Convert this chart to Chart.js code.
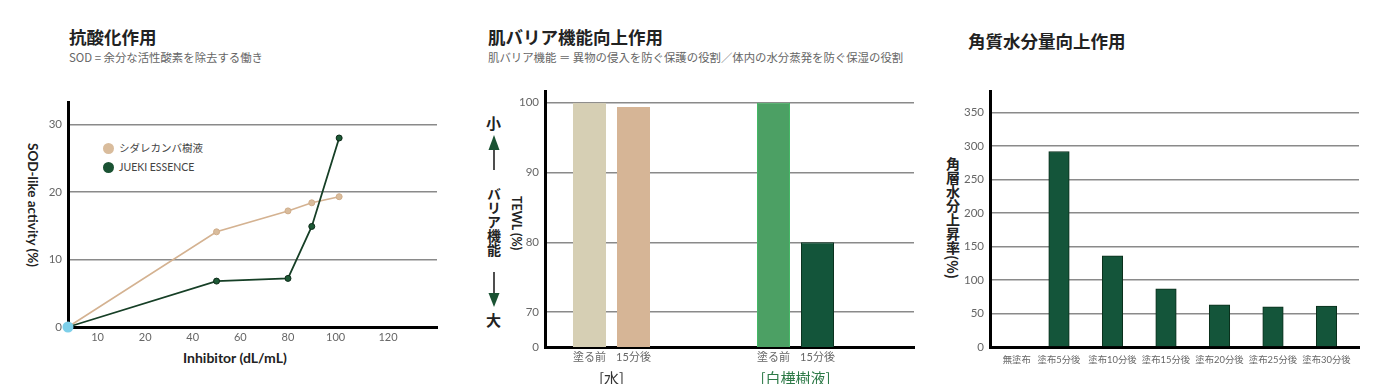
<!DOCTYPE html>
<html><head><meta charset="utf-8">
<script src="https://cdn.jsdelivr.net/npm/chart.js@4/dist/chart.umd.min.js"></script>
<style>
html,body{margin:0;padding:0;background:#fff;}
body{width:1400px;height:384px;position:relative;overflow:hidden;font-family:'Noto Sans CJK JP',sans-serif;}
.t{position:absolute;white-space:nowrap;}
.title{font-size:17.5px;font-weight:700;color:#222;line-height:20px;}
.sub{font-size:11.4px;color:#666;line-height:14px;}
.vt{position:absolute;writing-mode:vertical-rl;white-space:nowrap;}
.lat{font-family:Lato,'Noto Sans CJK JP',sans-serif;font-weight:700;color:#222;}
.lg{position:absolute;white-space:nowrap;font-family:Lato,'Noto Sans CJK JP',sans-serif;font-size:10.5px;color:#444;line-height:13px;}
.lg span{position:absolute;left:-16px;top:1px;width:11px;height:11px;border-radius:50%;}
canvas{position:absolute;}
</style></head>
<body>
<div class="t title" style="left:69px;top:27px">抗酸化作用</div>
<div class="t sub" style="left:69px;top:50px">SOD = 余分な活性酸素を除去する働き</div>
<div class="t title" style="left:488px;top:27px">肌バリア機能向上作用</div>
<div class="t sub" style="left:488px;top:50px">肌バリア機能 ＝ 異物の侵入を防ぐ保護の役割／体内の水分蒸発を防ぐ保湿の役割</div>
<div class="t title" style="left:968px;top:31px">角質水分量向上作用</div>

<div class="vt lat" style="left:25px;top:143px;font-size:13.5px;line-height:16px;">SOD-like activity (%)</div>
<div class="t lat" style="left:183px;top:350px;font-size:14px;line-height:16px;">Inhibitor (dL/mL)</div>

<div id="legend1"></div>

<div class="t" style="left:486px;top:114px;font-size:15px;font-weight:700;line-height:18px;color:#222;">小</div>
<div class="vt" style="left:486px;top:187px;font-size:14px;font-weight:700;line-height:16px;color:#222;">バリア機能</div>
<div class="t" style="left:486px;top:311px;font-size:15px;font-weight:700;line-height:18px;color:#222;">大</div>
<svg style="position:absolute;left:484px;top:130px" width="20" height="180" viewBox="484 130 20 180">
  <line x1="494" y1="148" x2="494" y2="170" stroke="#222" stroke-width="1.6"/>
  <polygon points="494,135 488.5,150 499.5,150" fill="#1a5233"/>
  <line x1="494" y1="272" x2="494" y2="295" stroke="#222" stroke-width="1.6"/>
  <polygon points="488.5,293 499.5,293 494,307" fill="#1a5233"/>
</svg>
<div class="vt lat" style="left:509px;top:196px;font-size:12.5px;line-height:14px;">TEWL (%)</div>

<div class="vt" style="left:945px;top:157px;font-size:14px;font-weight:700;line-height:16px;color:#222;">角層水分上昇率(%)</div>

<canvas id="c1" width="460" height="280" style="left:0;top:90px"></canvas>
<canvas id="c2" width="450" height="305" style="left:480px;top:79px"></canvas>
<canvas id="c3" width="460" height="305" style="left:940px;top:79px"></canvas>

<script>
// ---------- data ----------
// Panel 1: SOD-like activity
const SOD_X = [-12.4, 50, 80, 90, 101.5];          // first point = axis origin
const SERIES_NAMES = ['シダレカンバ樹液', 'JUEKI ESSENCE'];
const SHIDARE = [0, 14.1, 17.2, 18.4, 19.3];
const JUEKI = [0, 6.8, 7.2, 14.9, 28.0];
const SOD_Y_TICKS = [0, 10, 20, 30];
const SOD_X_TICKS = [0, 20, 40, 60, 80, 100, 122];
const SOD_X_LABELS = ['10', '20', '40', '60', '80', '100', '120'];

// Panel 2: TEWL
const TEWL_GROUPS = ['[水]', '[白樺樹液]'];
const TEWL_TIMES = ['塗る前', '15分後'];
const TEWL_BEFORE = [100, 100];
const TEWL_AFTER = [99.4, 80];
const TEWL_TICKS = [65, 70, 80, 90, 100];
const TEWL_TICK_LABELS = ['0', '70', '80', '90', '100'];

// Panel 3: moisture increase
const MOIST_LABELS = ['無塗布', '塗布5分後', '塗布10分後', '塗布15分後', '塗布20分後', '塗布25分後', '塗布30分後'];
const MOIST_POS = [0.21, 1, 2, 3, 4, 5, 6];
const MOIST = [0, 292, 136, 87, 63, 60, 61];
const MOIST_TICKS = [0, 50, 100, 150, 200, 250, 300, 350];

// ---------- styles ----------
const FONT = "Lato, 'Noto Sans CJK JP', sans-serif";
const TICK = '#666';
const GRID = '#8a8a8a';

const gridColor = (minV) => (c) => (c.tick && c.tick.value === minV) ? 'rgba(0,0,0,0)' : GRID;
const setTicks = (arr) => (s) => { s.ticks = arr.map(v => ({ value: v })); };

Chart.defaults.font.family = FONT;

// legend (HTML, from series names)
const LEG_COLORS = ['#d9bc9c', '#1a5233'];
const lg = document.getElementById('legend1');
SERIES_NAMES.forEach((n, i) => {
  const d = document.createElement('div');
  d.className = 'lg';
  d.style.left = '119px';
  d.style.top = (141.5 + i * 19) + 'px';
  d.innerHTML = '<span style="background:' + LEG_COLORS[i] + '"></span>' + n;
  lg.appendChild(d);
});

// ---------- chart 1 ----------
new Chart(document.getElementById('c1'), {
  type: 'line',
  data: {
    datasets: [
      { label: 'origin', data: [{ x: SOD_X[0], y: 0 }], showLine: false, pointRadius: 5.5,
        pointBackgroundColor: '#7dcfe9', pointBorderWidth: 0, order: -1, clip: false },
      { label: SERIES_NAMES[1], data: SOD_X.map((x, i) => ({ x, y: JUEKI[i] })),
        borderColor: '#163f26', borderWidth: 1.8, pointRadius: 3, pointBackgroundColor: '#1d5a36',
        pointBorderColor: '#0c2a18', pointBorderWidth: 1, clip: false },
      { label: SERIES_NAMES[0], data: SOD_X.map((x, i) => ({ x, y: SHIDARE[i] })),
        borderColor: '#d4b291', borderWidth: 1.6, pointRadius: 3, pointBackgroundColor: '#d9bc9c',
        pointBorderColor: '#d0ad8a', pointBorderWidth: 1, clip: false }
    ]
  },
  options: {
    responsive: false, animation: false, devicePixelRatio: 1,
    layout: { padding: { top: 10, right: 23, left: 0, bottom: 0 }, autoPadding: false },
    plugins: { legend: { display: false }, tooltip: { enabled: false } },
    scales: {
      x: { type: 'linear', min: SOD_X[0], max: 142.6, offset: false,
        afterBuildTicks: setTicks(SOD_X_TICKS), afterFit: (s) => { s.height = 43; },
        ticks: { callback: (v, i) => SOD_X_LABELS[i], color: TICK, font: { size: 11 }, padding: 4, maxRotation: 0, autoSkip: false },
        grid: { display: false, drawTicks: false }, border: { display: true, color: '#000', width: 3 } },
      y: { type: 'linear', min: 0, max: 33.2,
        afterBuildTicks: setTicks(SOD_Y_TICKS), afterFit: (s) => { s.width = 68; },
        ticks: { color: TICK, font: { size: 11.5 }, padding: 6 },
        grid: { color: gridColor(0), lineWidth: 1.5, drawTicks: false },
        border: { display: true, color: '#000', width: 3 } }
    }
  }
});

// ---------- chart 2 ----------
const subLabels = {
  id: 'subLabels',
  afterDraw(chart) {
    const ctx = chart.ctx;
    ctx.save();
    ctx.font = '11px ' + FONT;
    ctx.fillStyle = TICK;
    ctx.textAlign = 'center';
    ctx.textBaseline = 'middle';
    chart.data.datasets.forEach((ds, di) => {
      chart.getDatasetMeta(di).data.forEach(bar => {
        ctx.fillText(TEWL_TIMES[di], bar.x, chart.chartArea.bottom + 10);
      });
    });
    ctx.restore();
  }
};
new Chart(document.getElementById('c2'), {
  type: 'bar',
  data: {
    datasets: [
      { label: TEWL_TIMES[0], data: TEWL_BEFORE.map((y, i) => ({ x: i + 1, y })),
        backgroundColor: ['#d6cfb4', '#4ca064'], borderColor: ['#d6cfb4', '#45b866'], borderWidth: 1 },
      { label: TEWL_TIMES[1], data: TEWL_AFTER.map((y, i) => ({ x: i + 1, y })),
        backgroundColor: ['#d6b596', '#13553a'], borderColor: ['#d6b596', '#0b3320'], borderWidth: 1 }
    ]
  },
  plugins: [subLabels],
  options: {
    responsive: false, animation: false, devicePixelRatio: 1,
    categoryPercentage: 0.4783, barPercentage: 0.75,
    layout: { padding: { top: 10, right: 16, left: 0, bottom: 0 }, autoPadding: false },
    plugins: { legend: { display: false }, tooltip: { enabled: false } },
    scales: {
      x: { type: 'linear', min: 0.6386, max: 2.644, z: 2, offset: false,
        afterBuildTicks: setTicks([1, 2]), afterFit: (s) => { s.height = 37; },
        ticks: { callback: (v, i) => TEWL_GROUPS[i], color: (c) => c.index === 1 ? '#2d7a47' : '#333',
          font: { size: 15, family: "'Noto Sans CJK JP', sans-serif" }, padding: 22, maxRotation: 0, autoSkip: false },
        grid: { display: false, drawTicks: false, offset: false }, border: { display: true, color: '#000', width: 3 } },
      y: { type: 'linear', min: 65, max: 101.56, z: 1,
        afterBuildTicks: setTicks(TEWL_TICKS), afterFit: (s) => { s.width = 65; },
        ticks: { callback: (v, i) => TEWL_TICK_LABELS[i], color: TICK, font: { size: 11.5 }, padding: 6 },
        grid: { color: gridColor(65), lineWidth: 1.5, drawTicks: false },
        border: { display: true, color: '#000', width: 3 } }
    }
  }
});

// ---------- chart 3 ----------
new Chart(document.getElementById('c3'), {
  type: 'bar',
  data: {
    datasets: [
      { label: '角層水分上昇率', data: MOIST_POS.map((x, i) => ({ x, y: MOIST[i] })),
        backgroundColor: '#14553a', borderColor: '#0a2e1b', borderWidth: 1, barThickness: 20.5 }
    ]
  },
  options: {
    responsive: false, animation: false, devicePixelRatio: 1,
    layout: { padding: { top: 10, right: 41, left: 0, bottom: 0 }, autoPadding: false },
    plugins: { legend: { display: false }, tooltip: { enabled: false } },
    scales: {
      x: { type: 'linear', min: -0.2897, max: 6.6075, z: 2, offset: false,
        afterBuildTicks: setTicks(MOIST_POS), afterFit: (s) => { s.height = 37; },
        ticks: { callback: (v, i) => MOIST_LABELS[i], color: TICK, font: { size: 9.4 }, padding: 7, maxRotation: 0, autoSkip: false },
        grid: { display: false, drawTicks: false, offset: false }, border: { display: true, color: '#000', width: 3 } },
      y: { type: 'linear', min: 0, max: 381, z: 1,
        afterBuildTicks: setTicks(MOIST_TICKS), afterFit: (s) => { s.width = 50; },
        ticks: { color: TICK, font: { size: 11.5 }, padding: 6 },
        grid: { color: gridColor(0), lineWidth: 1.5, drawTicks: false },
        border: { display: true, color: '#000', width: 3 } }
    }
  }
});
</script>
</body></html>
